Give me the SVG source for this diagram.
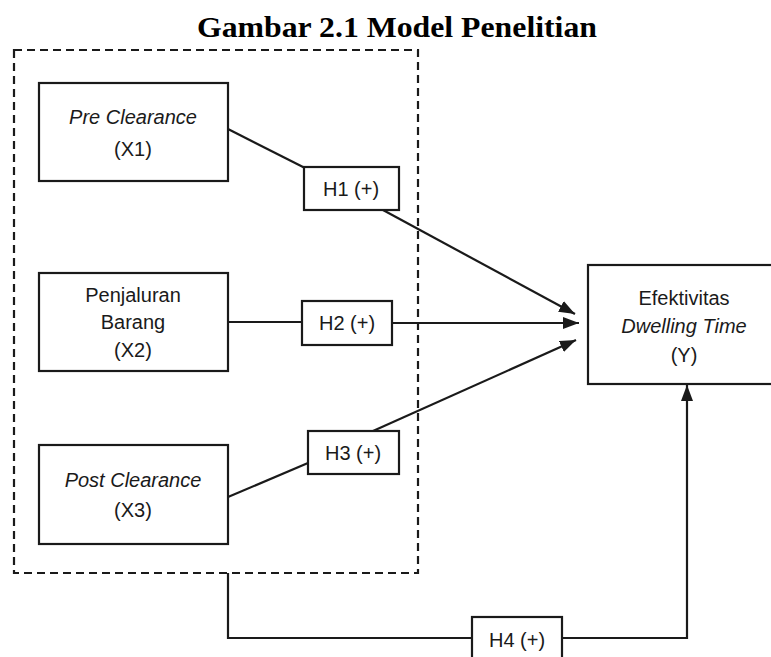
<svg xmlns="http://www.w3.org/2000/svg" width="771" height="657" viewBox="0 0 771 657">
<style>
.box{fill:#fff;stroke:#1a1a1a;stroke-width:2.2}
.ln{fill:none;stroke:#1a1a1a;stroke-width:2.2}
.t{font-family:"Liberation Sans",Arial,sans-serif;font-size:20px;fill:#1a1a1a;text-anchor:middle}
.i{font-style:italic}
</style>
<defs>
<marker id="ah" viewBox="0 0 16 12" refX="16" refY="6" markerWidth="16" markerHeight="12" markerUnits="userSpaceOnUse" orient="auto">
<path d="M0,0 L16,6 L0,12 Z" fill="#1a1a1a"/>
</marker>
</defs>
<rect width="771" height="657" fill="#fff"/>
<text x="397" y="37" font-family="'Liberation Serif','Times New Roman',serif" font-weight="bold" font-size="30" text-anchor="middle" textLength="400" lengthAdjust="spacingAndGlyphs" fill="#000">Gambar 2.1 Model Penelitian</text>
<rect id="group" x="14" y="50" width="404" height="523" fill="none" stroke="#1a1a1a" stroke-width="2.2" stroke-dasharray="8 5"/>
<g id="connectors">
<line class="ln" x1="228" y1="129" x2="305" y2="168"/>
<line class="ln" x1="228" y1="322" x2="302" y2="322"/>
<line class="ln" x1="228" y1="497" x2="308" y2="463"/>
<line class="ln" x1="383" y1="210" x2="575" y2="314" marker-end="url(#ah)"/>
<line class="ln" x1="392" y1="323" x2="579" y2="323" marker-end="url(#ah)"/>
<line class="ln" x1="373" y1="431" x2="576" y2="340" marker-end="url(#ah)"/>
<polyline class="ln" points="228,573 228,638 472,638"/>
<polyline class="ln" points="562,638 687,638 687,385" marker-end="url(#ah)"/>
</g>
<g id="x1">
<rect class="box" x="39" y="83" width="189" height="98"/>
<text class="t i" x="133" y="124">Pre Clearance</text>
<text class="t" x="133" y="156">(X1)</text>
</g>
<g id="x2">
<rect class="box" x="39" y="273" width="189" height="98"/>
<text class="t" x="133" y="302">Penjaluran</text>
<text class="t" x="133" y="329">Barang</text>
<text class="t" x="133" y="357">(X2)</text>
</g>
<g id="x3">
<rect class="box" x="39" y="445" width="189" height="99"/>
<text class="t i" x="133" y="487">Post Clearance</text>
<text class="t" x="133" y="517">(X3)</text>
</g>
<g id="h1">
<rect class="box" x="304" y="167" width="95" height="43"/>
<text class="t" x="351" y="196">H1 (+)</text>
</g>
<g id="h2">
<rect class="box" x="302" y="301" width="90" height="44"/>
<text class="t" x="347" y="330">H2 (+)</text>
</g>
<g id="h3">
<rect class="box" x="308" y="431" width="91" height="43"/>
<text class="t" x="353" y="460">H3 (+)</text>
</g>
<g id="h4">
<rect class="box" x="472" y="617" width="90" height="44"/>
<text class="t" x="517" y="647">H4 (+)</text>
</g>
<g id="y">
<rect class="box" x="588" y="265" width="190" height="119"/>
<text class="t" x="684" y="305">Efektivitas</text>
<text class="t i" x="684" y="333">Dwelling Time</text>
<text class="t" x="684" y="362">(Y)</text>
</g>
</svg>
